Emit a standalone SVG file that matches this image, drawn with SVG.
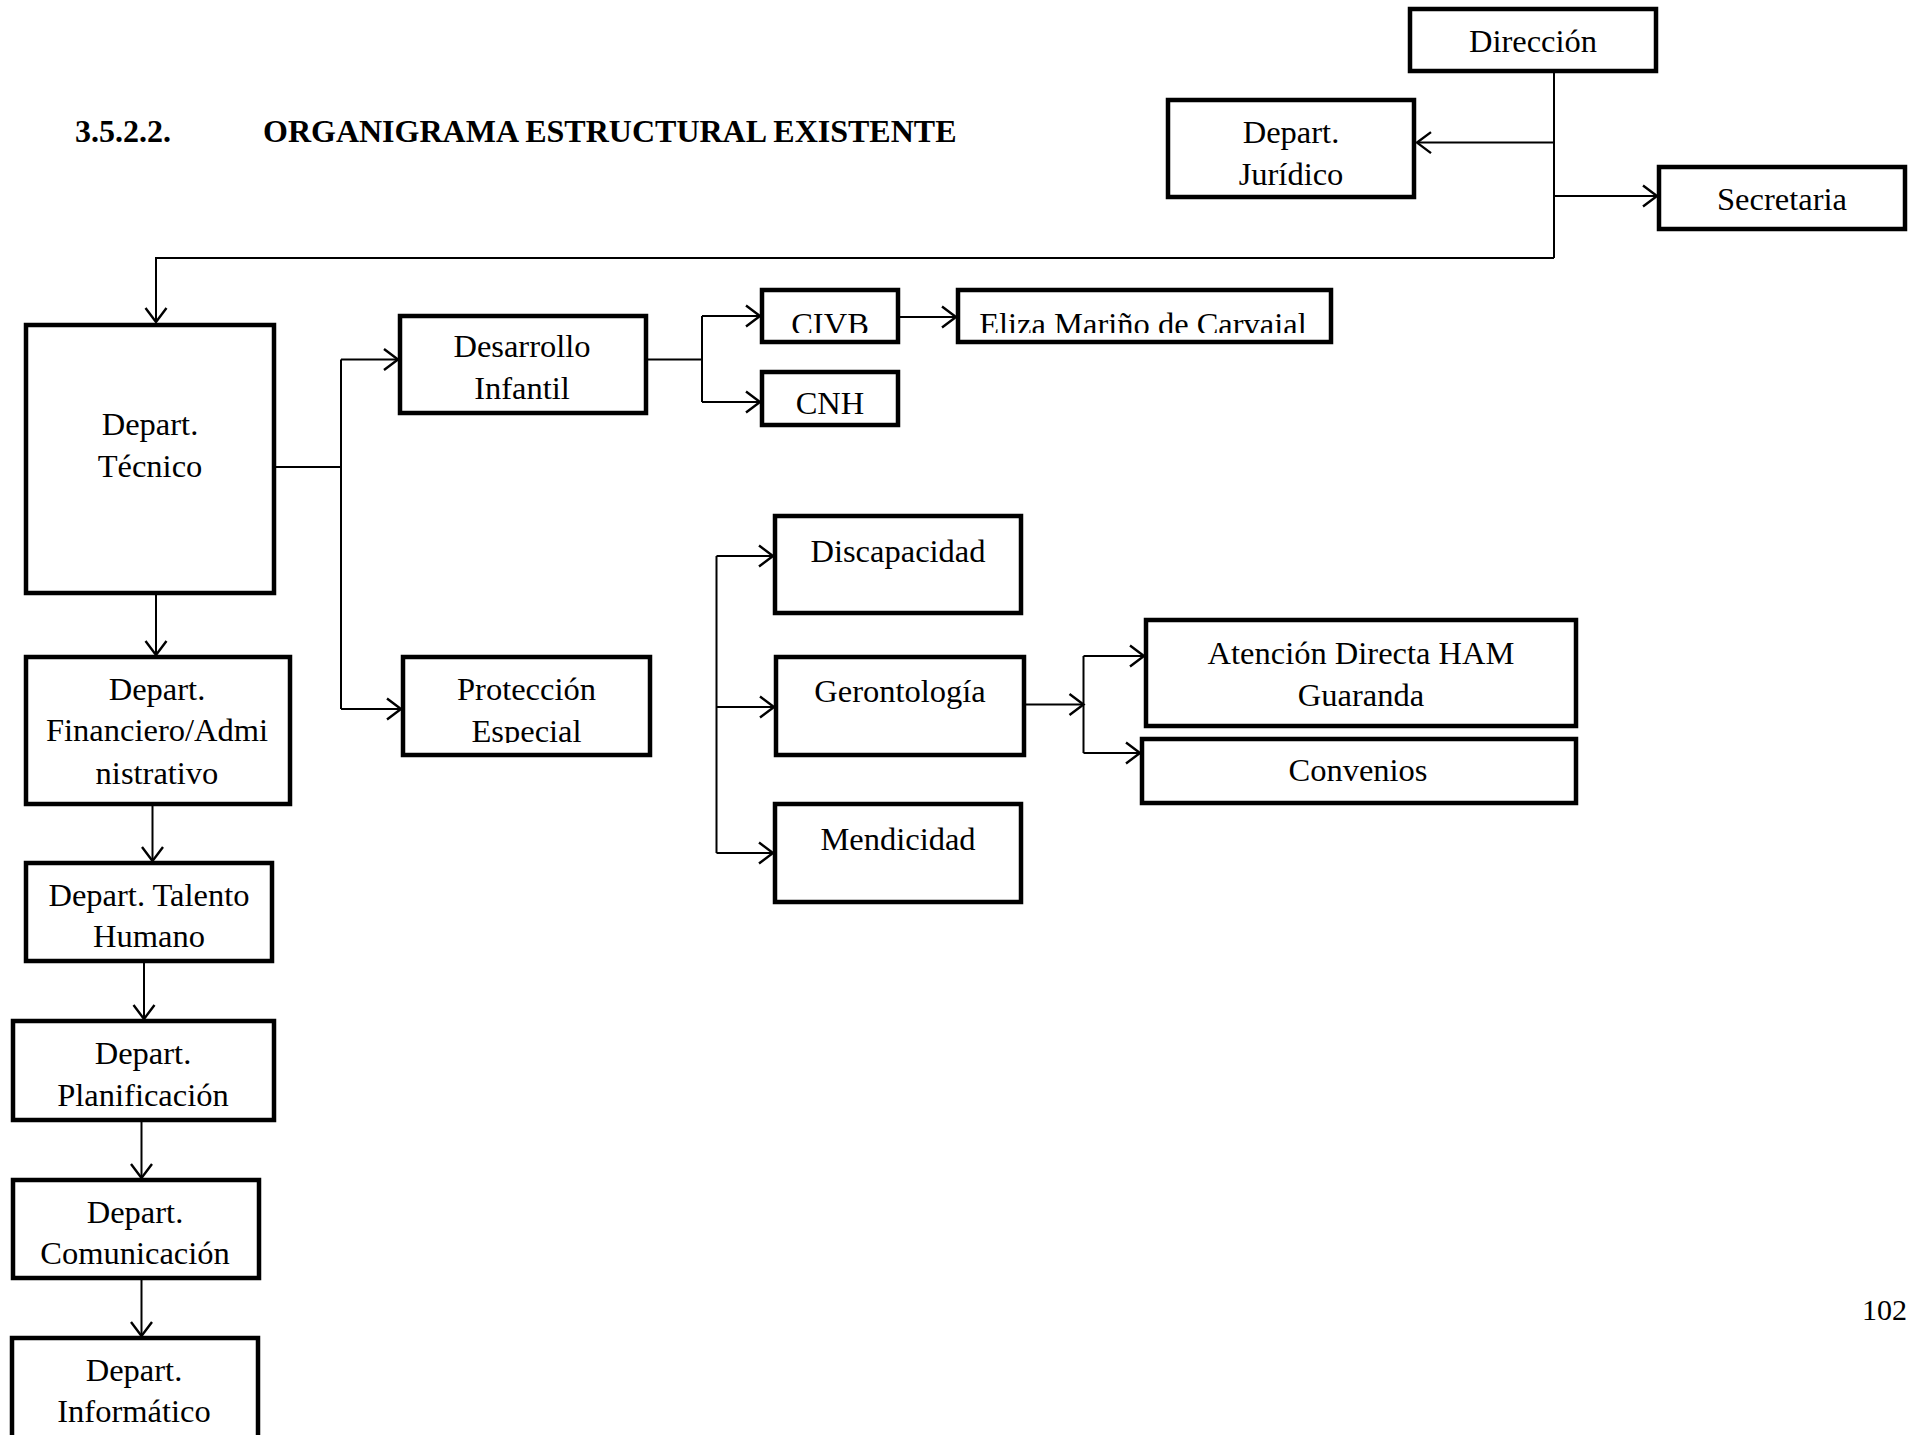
<svg xmlns="http://www.w3.org/2000/svg" width="1911" height="1435" viewBox="0 0 1911 1435">
  <style>
    .box { fill: #ffffff; stroke: #000000; stroke-width: 4.5; }
    .lbl { font-family: "Liberation Serif", "Times New Roman", serif; font-size: 32.5px; fill: #000000; text-anchor: middle; }
    .title { font-family: "Liberation Serif", "Times New Roman", serif; font-size: 32px; font-weight: bold; fill: #000000; }
    .pg { font-family: "Liberation Serif", "Times New Roman", serif; font-size: 30px; fill: #000000; }
    .wire { fill: none; stroke: #000000; stroke-width: 2; }
    .arr { fill: none; stroke: #000000; stroke-width: 2; marker-end: url(#open); }
  </style>
  <defs>
    <marker id="open" markerUnits="userSpaceOnUse" markerWidth="34" markerHeight="34" viewBox="-17 -17 34 34" refX="0" refY="0" orient="auto">
      <path d="M-14,-10.5 L0,0 L-14,10.5" fill="none" stroke="#000000" stroke-width="2.4"/>
    </marker>
    <clipPath id="clipCivb"><rect x="0" y="0" width="1911" height="333"/></clipPath>
    <clipPath id="clipProt"><rect x="0" y="0" width="1911" height="743"/></clipPath>
  </defs>
  <rect width="1911" height="1435" fill="#ffffff"/>

  <!-- heading and page number -->
  <text class="title" x="75" y="142">3.5.2.2.</text>
  <text class="title" x="263" y="142">ORGANIGRAMA ESTRUCTURAL EXISTENTE</text>
  <text class="pg" x="1862" y="1320">102</text>

  <!-- connectors -->
  <g id="connectors">
    <path class="wire" d="M1554,72 V258"/>
    <path class="arr" d="M1554,142.6 H1417"/>
    <path class="arr" d="M1554,196 H1657"/>
    <path class="arr" d="M1554,258 H156 V322"/>

    <path class="wire" d="M274,467 H341"/>
    <path class="wire" d="M341,359.5 V709"/>
    <path class="arr" d="M341,359.5 H398"/>
    <path class="arr" d="M341,709 H401"/>

    <path class="wire" d="M646,359.5 H702"/>
    <path class="wire" d="M702,316 V402"/>
    <path class="arr" d="M702,316 H760"/>
    <path class="arr" d="M702,402 H760"/>
    <path class="arr" d="M898,317 H956"/>

    <path class="wire" d="M716.5,556 V853"/>
    <path class="arr" d="M716.5,556 H773"/>
    <path class="arr" d="M716.5,707 H774"/>
    <path class="arr" d="M716.5,853 H773"/>

    <path class="arr" d="M1024,704.5 H1083.5"/>
    <path class="wire" d="M1083.5,656 V753"/>
    <path class="arr" d="M1083.5,656 H1144"/>
    <path class="arr" d="M1083.5,753 H1140"/>

    <path class="arr" d="M156,593.5 V655"/>
    <path class="arr" d="M152.5,804 V861"/>
    <path class="arr" d="M144,961.5 V1019"/>
    <path class="arr" d="M141.5,1120 V1178"/>
    <path class="arr" d="M141.5,1278.5 V1336"/>
  </g>

  <!-- nodes -->
  <g id="direccion">
    <rect class="box" x="1410" y="9" width="246" height="62"/>
    <text class="lbl" x="1533" y="52">Dirección</text>
  </g>
  <g id="juridico">
    <rect class="box" x="1168" y="100" width="246" height="97"/>
    <text class="lbl" x="1291" y="143">Depart.</text>
    <text class="lbl" x="1291" y="184.5">Jurídico</text>
  </g>
  <g id="secretaria">
    <rect class="box" x="1659" y="167" width="246" height="62"/>
    <text class="lbl" x="1782" y="210">Secretaria</text>
  </g>
  <g id="tecnico">
    <rect class="box" x="26" y="325" width="248" height="268"/>
    <text class="lbl" x="150" y="435">Depart.</text>
    <text class="lbl" x="150" y="476.5">Técnico</text>
  </g>
  <g id="desarrollo">
    <rect class="box" x="400" y="316" width="246" height="97"/>
    <text class="lbl" x="522" y="357">Desarrollo</text>
    <text class="lbl" x="522" y="398.5">Infantil</text>
  </g>
  <g id="civb">
    <rect class="box" x="762" y="290" width="136" height="52"/>
    <text class="lbl" x="830" y="335" clip-path="url(#clipCivb)">CIVB</text>
  </g>
  <g id="eliza">
    <rect class="box" x="958" y="290" width="373" height="52"/>
    <text class="lbl" x="1143" y="335" clip-path="url(#clipCivb)">Eliza Mariño de Carvaial</text>
  </g>
  <g id="cnh">
    <rect class="box" x="762" y="372" width="136" height="53"/>
    <text class="lbl" x="830" y="414">CNH</text>
  </g>
  <g id="proteccion">
    <rect class="box" x="403" y="657" width="247" height="98"/>
    <text class="lbl" x="526.5" y="699.5">Protección</text>
    <text class="lbl" x="526.5" y="742" clip-path="url(#clipProt)">Especial</text>
  </g>
  <g id="discapacidad">
    <rect class="box" x="775" y="516" width="246" height="97"/>
    <text class="lbl" x="898" y="562">Discapacidad</text>
  </g>
  <g id="gerontologia">
    <rect class="box" x="776" y="657" width="248" height="98"/>
    <text class="lbl" x="900" y="702">Gerontología</text>
  </g>
  <g id="mendicidad">
    <rect class="box" x="775" y="804" width="246" height="98"/>
    <text class="lbl" x="898" y="849.5">Mendicidad</text>
  </g>
  <g id="atencion">
    <rect class="box" x="1146" y="620" width="430" height="106"/>
    <text class="lbl" x="1361" y="664">Atención Directa HAM</text>
    <text class="lbl" x="1361" y="705.5">Guaranda</text>
  </g>
  <g id="convenios">
    <rect class="box" x="1142" y="739" width="434" height="64"/>
    <text class="lbl" x="1358" y="781">Convenios</text>
  </g>
  <g id="financiero">
    <rect class="box" x="26" y="657" width="264" height="147"/>
    <text class="lbl" x="157" y="699.5">Depart.</text>
    <text class="lbl" x="157" y="741">Financiero/Admi</text>
    <text class="lbl" x="157" y="783.5">nistrativo</text>
  </g>
  <g id="talento">
    <rect class="box" x="26" y="863" width="246" height="98"/>
    <text class="lbl" x="149" y="905.5">Depart. Talento</text>
    <text class="lbl" x="149" y="947">Humano</text>
  </g>
  <g id="planificacion">
    <rect class="box" x="13" y="1021" width="261" height="99"/>
    <text class="lbl" x="143" y="1064">Depart.</text>
    <text class="lbl" x="143" y="1105.5">Planificación</text>
  </g>
  <g id="comunicacion">
    <rect class="box" x="13" y="1180" width="246" height="98"/>
    <text class="lbl" x="135" y="1222.5">Depart.</text>
    <text class="lbl" x="135" y="1264">Comunicación</text>
  </g>
  <g id="informatico">
    <rect class="box" x="12" y="1338" width="246" height="110"/>
    <text class="lbl" x="134" y="1381">Depart.</text>
    <text class="lbl" x="134" y="1422">Informático</text>
  </g>
</svg>
